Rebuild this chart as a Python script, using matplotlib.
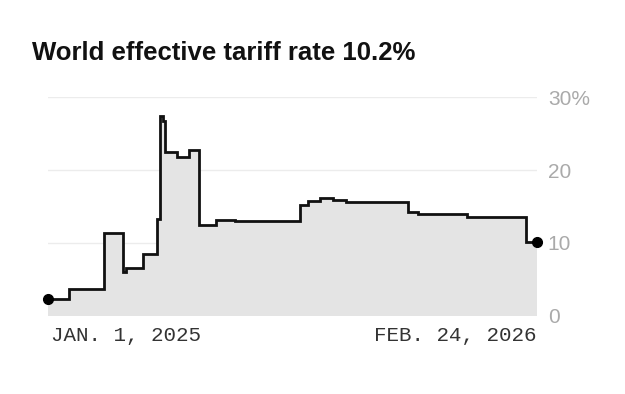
import matplotlib
matplotlib.use("Agg")
import matplotlib.pyplot as plt
import numpy as np
import pandas as pd

# ── Data ──────────────────────────────────────────────────────────────────────
step_dates = [
    "2025-01-01", "2025-01-19", "2025-02-18", "2025-03-06", "2025-03-09",
    "2025-03-23", "2025-04-04", "2025-04-07", "2025-04-09", "2025-04-11",
    "2025-04-21", "2025-05-02", "2025-05-10", "2025-05-25", "2025-06-10",
    "2025-08-05", "2025-08-12", "2025-08-22", "2025-09-02", "2025-09-13",
    "2025-11-06", "2025-11-14", "2025-12-26", "2026-02-15", "2026-02-24",
]
rates = [
    2.3, 3.6, 11.3, 6.0, 6.6,
    8.4, 13.3, 27.5, 26.8, 22.5,
    21.8, 22.7, 12.5, 13.2, 13.0,
    15.2, 15.7, 16.1, 15.9, 15.6,
    14.3, 13.9, 13.6, 10.1, 10.1,
]
y_ticks = [0, 10, 20, 30]
y_tick_labels = ["0", "10", "20", "30%"]
x_labels = ["JAN. 1, 2025", "FEB. 24, 2026"]
title = "World effective tariff rate 10.2%"

dates = pd.to_datetime(step_dates)

# ── Figure ───────────────────────────────────────────────────────────────────
fig = plt.figure(figsize=(6.25, 3.94), dpi=100)
fig.patch.set_facecolor("white")
ax = fig.add_axes([0.0773, 0.1992, 0.7814, 0.5538])

ax.fill_between(dates, rates, 0, step="post", color="#e4e4e4", linewidth=0)
ax.step(dates, rates, where="post", color="#111111", linewidth=2.0,
        solid_joinstyle="miter")
ax.plot([dates[0], dates[-1]], [rates[0], rates[-1]], "o", color="black",
        markersize=7, clip_on=False, zorder=5)

ax.set_xlim(dates[0], dates[-1])
ax.set_ylim(0, 30)

for v in y_ticks[1:]:
    ax.axhline(v, color="#ececec", linewidth=1.0, zorder=0)

for s in ax.spines.values():
    s.set_visible(False)
ax.set_xticks([])
ax.set_yticks(y_ticks)
ax.set_yticklabels(y_tick_labels)
ax.yaxis.tick_right()
ax.tick_params(axis="y", length=0, pad=8, labelsize=15, labelcolor="#aaaaaa")
for lbl in ax.get_yticklabels():
    lbl.set_horizontalalignment("left")
    lbl.set_fontfamily("Liberation Sans")

# date labels under the axis
ax.text(0.005, -0.09, x_labels[0], transform=ax.transAxes, ha="left",
        va="center", fontsize=15, color="#333333", family="Liberation Mono")
ax.text(1.0, -0.09, x_labels[1], transform=ax.transAxes, ha="right",
        va="center", fontsize=15, color="#333333", family="Liberation Mono")

fig.text(0.052, 0.866, title, ha="left", va="center", fontsize=18.5,
         fontweight="bold", color="#111111", family="Liberation Sans")

fig.savefig("out.png", dpi=100, facecolor=fig.get_facecolor())
